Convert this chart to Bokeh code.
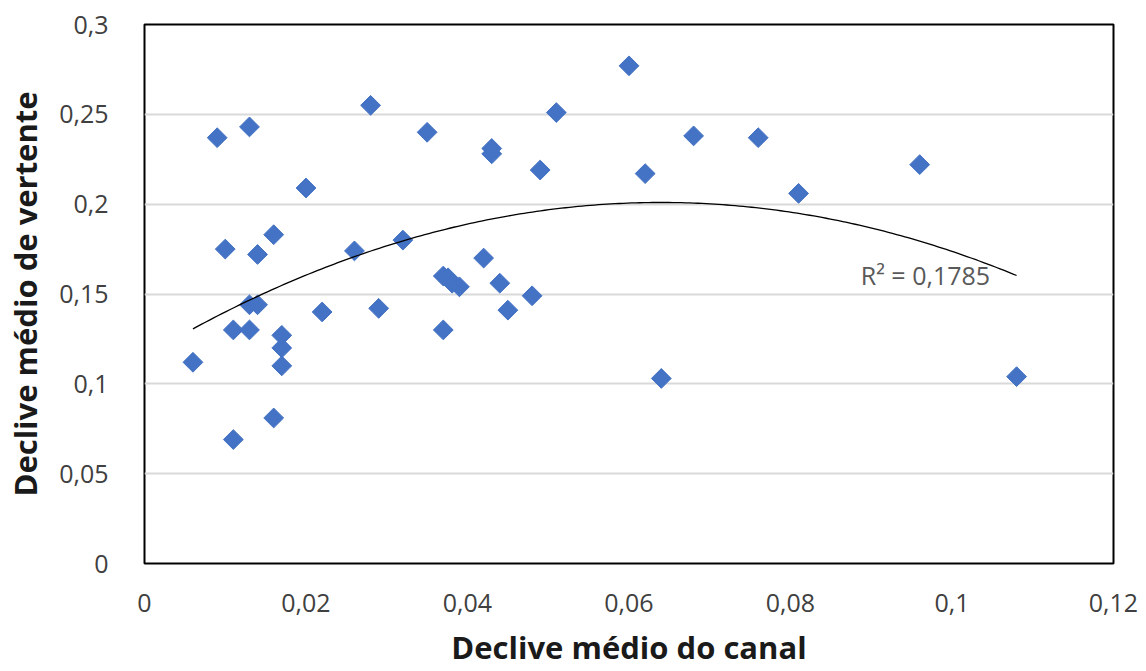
import numpy as np
from bokeh.plotting import figure
from bokeh.models import FixedTicker, Label, ColumnDataSource, Range1d
from bokeh.embed import file_html
from bokeh.resources import INLINE

# ---- data ----
canal = [0.006, 0.009, 0.013, 0.010, 0.011, 0.011, 0.013, 0.013, 0.014, 0.014,
         0.016, 0.016, 0.017, 0.017, 0.017, 0.020, 0.022, 0.026, 0.028, 0.029,
         0.032, 0.035, 0.037, 0.037, 0.0376, 0.0381, 0.039, 0.042, 0.043, 0.043,
         0.044, 0.045, 0.048, 0.049, 0.051, 0.060, 0.062, 0.064, 0.068, 0.076,
         0.081, 0.096, 0.108]
vertente = [0.112, 0.237, 0.243, 0.175, 0.130, 0.069, 0.130, 0.144, 0.144, 0.172,
            0.183, 0.081, 0.127, 0.120, 0.110, 0.209, 0.140, 0.174, 0.255, 0.142,
            0.180, 0.240, 0.130, 0.160, 0.159, 0.156, 0.154, 0.170, 0.231, 0.228,
            0.156, 0.141, 0.149, 0.219, 0.251, 0.277, 0.217, 0.103, 0.238, 0.237,
            0.206, 0.222, 0.104]

x_ticks = [0, 0.02, 0.04, 0.06, 0.08, 0.1, 0.12]
x_tick_labels = ["0", "0,02", "0,04", "0,06", "0,08", "0,1", "0,12"]
y_ticks = [0, 0.05, 0.1, 0.15, 0.2, 0.25, 0.3]
y_tick_labels = ["0", "0,05", "0,1", "0,15", "0,2", "0,25", "0,3"]

x_title = "Declive médio do canal"
y_title = "Declive médio de vertente"
r2_text = "R² = 0,1785"

FONT = "Open Sans"

# ---- trend (polynomial, order 2) ----
coef = np.polyfit(canal, vertente, 2)
tx = np.linspace(min(canal), max(canal), 200)
ty = np.polyval(coef, tx)

p = figure(width=1138, height=671, output_backend="svg", toolbar_location=None,
           x_range=Range1d(0, 0.12), y_range=Range1d(0, 0.3),
           min_border_left=144, min_border_right=25, min_border_top=24,
           min_border_bottom=108)

p.outline_line_color = "black"
p.outline_line_width = 2

p.xgrid.grid_line_color = None
p.ygrid.grid_line_color = "#d9d9d9"
p.ygrid.grid_line_width = 2

for ax in (p.xaxis[0], p.yaxis[0]):
    ax.axis_line_color = None
    ax.major_tick_line_color = None
    ax.minor_tick_line_color = None
    ax.major_label_text_font = FONT
    ax.major_label_text_font_size = "25px"
    ax.major_label_text_color = "#404040"
    ax.axis_label_text_font = FONT
    ax.axis_label_text_font_style = "bold"
    ax.axis_label_text_font_size = "31px"
    ax.axis_label_text_color = "#1a1a1a"

p.xaxis.ticker = FixedTicker(ticks=x_ticks)
p.yaxis.ticker = FixedTicker(ticks=y_ticks)
p.xaxis.major_label_overrides = dict(zip(x_ticks, x_tick_labels))
p.yaxis.major_label_overrides = dict(zip(y_ticks, y_tick_labels))
p.xaxis.major_label_standoff = 24
p.yaxis.major_label_standoff = 30
p.xaxis.axis_label = x_title
p.xaxis.axis_label_standoff = 11
p.yaxis.axis_label = y_title
p.yaxis.axis_label_standoff = 10

src = ColumnDataSource(dict(x=canal, y=vertente))
p.scatter("x", "y", source=src, marker="square", angle=np.pi / 4, size=14,
          fill_color="#4472C4", line_color="#4472C4")

p.line(tx, ty, line_color="black", line_width=1.3)

p.add_layout(Label(x=0.0887, y=0.1608, text=r2_text, text_font=FONT,
                   text_font_size="25px", text_color="#595959",
                   text_baseline="alphabetic"))

open("out.html", "w").write(file_html(p, INLINE))
